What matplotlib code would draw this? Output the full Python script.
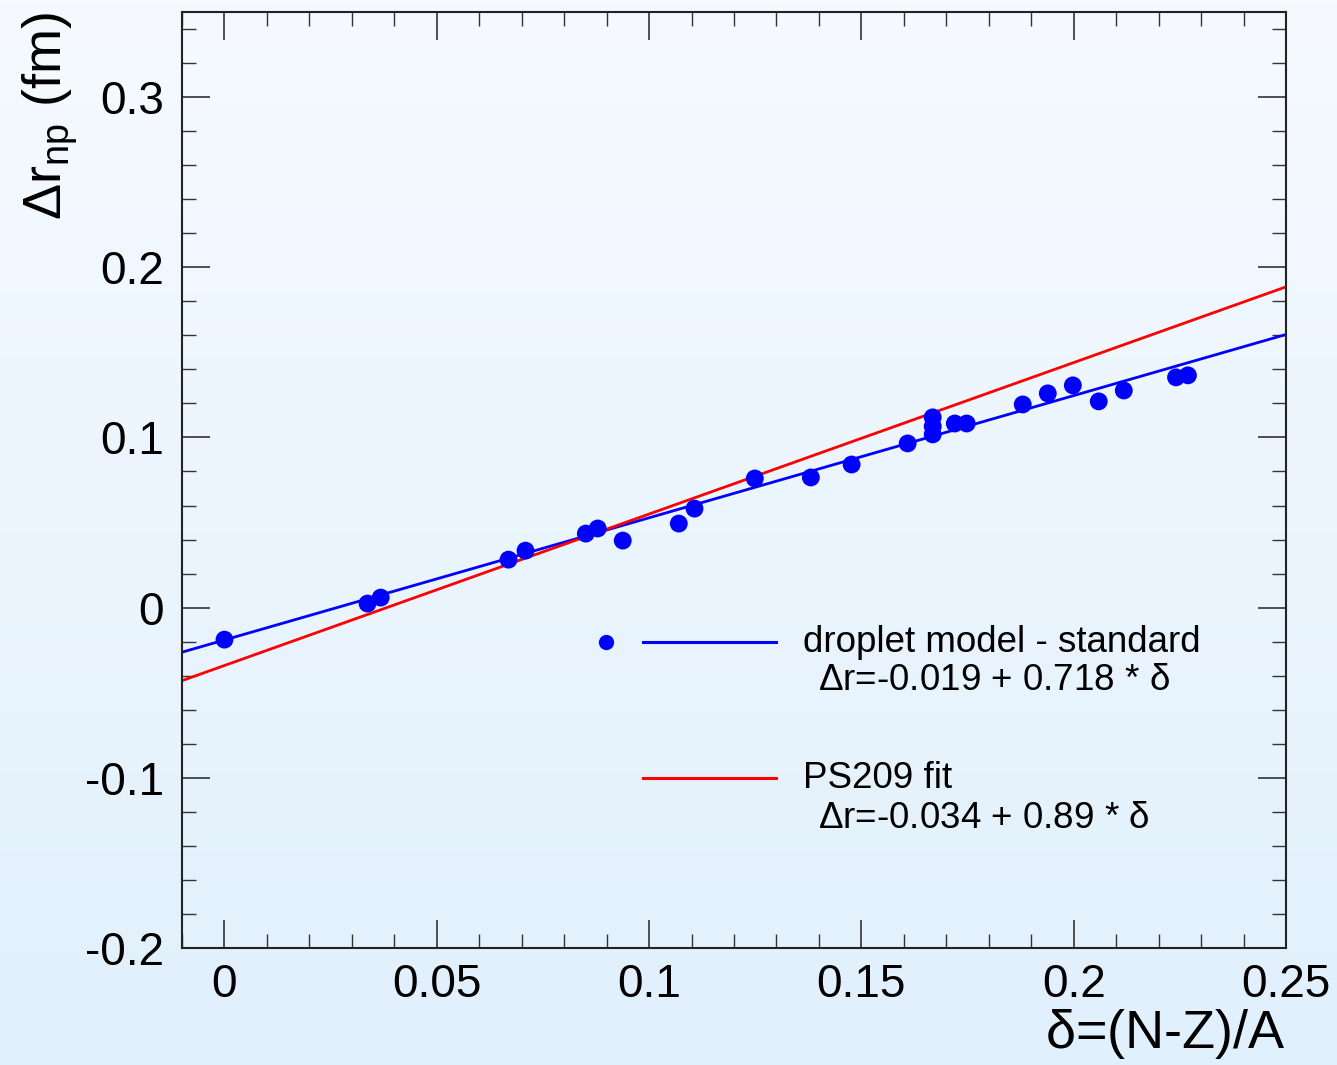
import numpy as np
import matplotlib
matplotlib.use("Agg")
import matplotlib.pyplot as plt
from matplotlib.ticker import MultipleLocator
from matplotlib.lines import Line2D

plt.rcParams['font.family'] = ['Liberation Sans', 'DejaVu Sans']
plt.rcParams['mathtext.fontset'] = 'custom'
plt.rcParams['mathtext.rm'] = 'Liberation Sans'
plt.rcParams['mathtext.it'] = 'Liberation Sans'
plt.rcParams['mathtext.default'] = 'regular'

# data points (delta, delta r_np)
delta = [0.0, 0.0337, 0.0368, 0.0669, 0.0709, 0.0851, 0.0879, 0.0938, 0.1070,
         0.1107, 0.1249, 0.1381, 0.1477, 0.1609, 0.1668, 0.1668, 0.1668, 0.1720,
         0.1748, 0.1880, 0.1939, 0.1998, 0.2059, 0.2118, 0.2241, 0.2269]
drnp = [-0.0188, 0.0024, 0.0059, 0.0282, 0.0335, 0.0435, 0.0465, 0.0394, 0.0494,
        0.0582, 0.0759, 0.0765, 0.0841, 0.0965, 0.1118, 0.1065, 0.1018, 0.1082,
        0.1082, 0.1194, 0.1259, 0.1306, 0.1212, 0.1276, 0.1353, 0.1365]

# fit parameters
droplet_fit = (-0.019, 0.718)
ps209_fit = (-0.034, 0.89)

xlim = (-0.01, 0.25)
ylim = (-0.2, 0.35)

W, H = 1337, 1065
fig = plt.figure(figsize=(W / 100, H / 100), dpi=100)

# gradient background
bg = fig.add_axes([0, 0, 1, 1], zorder=-10)
grad = np.linspace(0, 1, 256).reshape(-1, 1)
top = np.array([246, 250, 255]) / 255.0
bot = np.array([224, 240, 252]) / 255.0
img = top[None, None, :] * (1 - grad[:, :, None]) + bot[None, None, :] * grad[:, :, None]
bg.imshow(img, aspect='auto', extent=[0, 1, 0, 1])
bg.axis('off')

ax = fig.add_axes([182 / W, 1 - 948 / H, (1286 - 182) / W, (948 - 12) / H])
ax.set_facecolor('none')

xx = np.linspace(xlim[0], xlim[1], 50)
ax.plot(xx, droplet_fit[0] + droplet_fit[1] * xx, color='#0000ff', lw=2, zorder=2)
ax.plot(xx, ps209_fit[0] + ps209_fit[1] * xx, color='#ff0000', lw=2, zorder=2)
ax.scatter(delta, drnp, s=165, color='#0000ff', edgecolors='none', zorder=3)

ax.set_xlim(*xlim)
ax.set_ylim(*ylim)
ax.xaxis.set_major_locator(MultipleLocator(0.05))
ax.xaxis.set_minor_locator(MultipleLocator(0.01))
ax.yaxis.set_major_locator(MultipleLocator(0.1))
ax.yaxis.set_minor_locator(MultipleLocator(0.02))

def fmt(v, p):
    s = ('%.2f' % v).rstrip('0').rstrip('.')
    if s in ('-0', ''):
        s = '0'
    return s
ax.xaxis.set_major_formatter(plt.FuncFormatter(fmt))
ax.yaxis.set_major_formatter(plt.FuncFormatter(fmt))

ax.tick_params(which='both', direction='in', top=True, right=True, color='#333333')
ax.tick_params(which='major', length=20, width=1.2, labelsize=33)
ax.tick_params(which='minor', length=10, width=1.0)
ax.tick_params(axis='x', which='major', pad=11)
ax.tick_params(axis='y', which='major', pad=13)
for sp in ax.spines.values():
    sp.set_linewidth(1.5)
    sp.set_color('#222222')

ax.set_xlabel(r'$\delta$=(N-Z)/A', fontsize=39, loc='right', labelpad=0)
ax.set_ylabel(r'$\Delta r_{np}$ (fm)', fontsize=39, loc='top')
ax.yaxis.set_label_coords((80 - 182) / (1286 - 182), 1.0)

# legend drawn manually
def axx(px):
    return (px - 182) / (1286 - 182)
def axy(py):
    return (948 - py) / (948 - 12)

ax.add_line(Line2D([axx(606)], [axy(642)], marker='o', ms=11, color='#0000ff',
                   mec='none', transform=ax.transAxes, zorder=4))
ax.add_line(Line2D([axx(643), axx(776)], [axy(642), axy(642)], color='#0000ff', lw=2.2,
                   transform=ax.transAxes, zorder=4))
ax.add_line(Line2D([axx(643), axx(776)], [axy(778), axy(778)], color='#ff0000', lw=2.2,
                   transform=ax.transAxes, zorder=4))
ts = 26.5
ax.text(axx(803), axy(643), 'droplet model - standard', transform=ax.transAxes,
        fontsize=ts, va='center', ha='left')
ax.text(axx(818), axy(681), r'$\Delta$r=-0.019 + 0.718 * $\delta$', transform=ax.transAxes,
        fontsize=ts, va='center', ha='left')
ax.text(axx(803), axy(779), 'PS209 fit', transform=ax.transAxes,
        fontsize=ts, va='center', ha='left')
ax.text(axx(818), axy(818), r'$\Delta$r=-0.034 + 0.89 * $\delta$', transform=ax.transAxes,
        fontsize=ts, va='center', ha='left')

fig.savefig('out.png', dpi=100)
